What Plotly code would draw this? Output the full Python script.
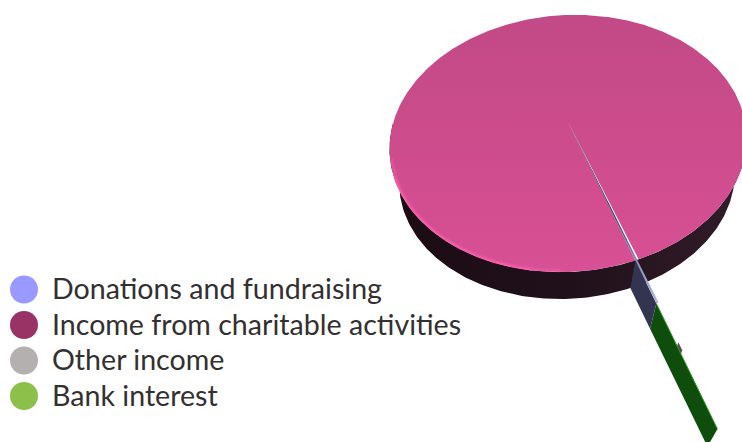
import numpy as np
import plotly.graph_objects as go

labels = ["Donations and fundraising", "Income from charitable activities", "Other income", "Bank interest"]
values = [0.15, 99.73, 0.02, 0.10]
legend_colors = ["#9999FF", "#993366", "#B4B0B0", "#8DBF4B"]
explode_outer = [1.25, 1.0, 1.50, 1.86]
explode_inner = [1.0, 0.0, 1.46, 1.25]

START = 161.2     # clockwise from the far side of the disc
KP, BP, AP = 0.167, 124.9, 176.0
CX, CY = 568.0, 122.0
SHEAR = -0.03
WALL_S, WX, WY = 0.94, 567.0, 158.0


def top(r, clock):
    a = np.radians(clock)
    X, Y = r * np.sin(a), r * np.cos(a)
    w = 1 + KP * Y
    x = CX + AP * X / w
    y = CY - BP * Y / w + SHEAR * (AP * X / w)
    return x, y


def low(r, clock):
    x, y = top(r, clock)
    return WX + WALL_S * (x - CX), WY + WALL_S * (y - CY)


def poly(xs, ys, color=None, grad=None):
    kw = dict(x=list(xs), y=list(ys), mode="lines", fill="toself", hoverinfo="skip", showlegend=False,
              line=dict(width=0, color="rgba(0,0,0,0)"))
    if color:
        kw["fillcolor"] = color
    if grad:
        kw["fillgradient"] = grad
    return go.Scatter(**kw)


def radial_face(r0, r1, clock):
    xa, ya = top(r0, clock)
    xb, yb = top(r1, clock)
    xc, yc = low(r1, clock)
    xd, yd = low(r0, clock)
    return [xa, xb, xc, xd, xa], [ya, yb, yc, yd, ya]


fig = go.Figure()

# side wall of the disc
th = np.linspace(88, 272, 240)
tx, ty = top(1.0, th)
lx, ly = low(1.0, th)
wall_x = np.concatenate([tx, lx[::-1]])
wall_y = np.concatenate([ty, ly[::-1]])
fig.add_trace(poly(wall_x, wall_y, grad=dict(type="horizontal", start=390, stop=742,
    colorscale=[[0, "#1B0C14"], [0.55, "#21111A"], [1, "#321D2A"]])))

# top of the large slice
pink_sweep = values[1] * 3.6
ang = np.linspace(START, START + pink_sweep, 720)
px_, py_ = top(1.0, ang)
ax, ay = top(0.0, 0.0)
fig.add_trace(poly(np.r_[ax, px_, ax], np.r_[ay, py_, ay], grad=dict(type="vertical", start=15, stop=272,
    colorscale=[[0, "#C24A86"], [0.5, "#CD4C8C"], [1, "#D85095"]])))

# bright rim on the near edge
for r, w, op, lo, hi in [(0.992, 3.5, 0.3, 182, 256), (0.997, 2, 0.7, 190, 248)]:
    rim = np.linspace(lo, hi, 160)
    rx, ry = top(r, rim)
    fig.add_trace(go.Scatter(x=rx, y=ry, mode="lines", hoverinfo="skip", showlegend=False, opacity=op,
                             line=dict(color="#FF62AE", width=w)))

# exploded slices: radial faces
ox, oy = radial_face(explode_inner[2], explode_outer[2], START - 0.5)
fig.add_trace(poly(ox, oy, color="#5A4A52"))
bx, by = radial_face(explode_inner[3], explode_outer[3], START)
fig.add_trace(poly(bx, by, color="#0E4D0C"))
ex0, ey0 = top(explode_inner[3], START)
ex1, ey1 = top(explode_outer[3], START)
fig.add_trace(go.Scatter(x=[ex0, ex1], y=[ey0, ey1], mode="lines", hoverinfo="skip", showlegend=False,
                         line=dict(color="#2F9A2A", width=1)))
dx, dy = radial_face(explode_inner[0], explode_outer[0], START)
fig.add_trace(poly(dx, dy, color="#33344F"))

# thin slice top
sweep = values[0] * 3.6
a0 = START - sweep
x0, y0 = top(explode_outer[0], a0)
x1, y1 = top(explode_outer[0], START)
fig.add_trace(poly([ax, x0, x1, ax], [ay, y0, y1, ay], grad=dict(type="horizontal", start=568, stop=657,
    colorscale=[[0, "#1E1F36"], [0.5, "#3B3D5C"], [0.8, "#8E95C0"], [1, "#AEB4DC"]])))

# legend
row_y = [289.5, 325, 360.5, 396]
text_y = [v + 2.5 for v in row_y]
fig.add_trace(go.Scatter(x=[24] * 4, y=row_y, mode="markers", hoverinfo="skip", showlegend=False,
                         marker=dict(size=28, color=legend_colors, line=dict(width=0))))
fig.add_trace(go.Scatter(x=[52] * 4, y=text_y, mode="text", text=labels, textposition="middle right",
                         hoverinfo="skip", showlegend=False,
                         textfont=dict(family="Lato", size=28.6, color="#333031")))

fig.update_layout(width=742, height=442, margin=dict(l=0, r=0, t=0, b=0), autosize=False,
                  paper_bgcolor="white", plot_bgcolor="white", showlegend=False,
                  xaxis=dict(range=[0, 742], visible=False, fixedrange=True),
                  yaxis=dict(range=[442, 0], visible=False, fixedrange=True))
fig.write_html("out.html", config=dict(displayModeBar=False),
               post_script="document.body.style.margin='0';")
